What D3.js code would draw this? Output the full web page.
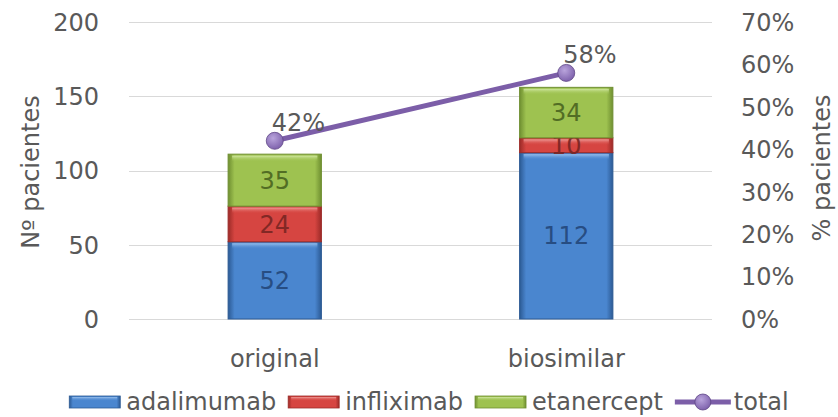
<!DOCTYPE html>
<html>
<head>
<meta charset="utf-8">
<script src="https://cdn.jsdelivr.net/npm/d3@7"></script>
<style>
  html, body { margin: 0; padding: 0; background: #ffffff; }
  svg { display: block; }
  text { font-family: "DejaVu Sans", "Open Sans", sans-serif; fill: #595959; }
</style>
</head>
<body>
<svg id="chart" width="838" height="417"></svg>
<script>
// Patients per drug, by product type
const categories = ["original", "biosimilar"];
const seriesNames = ["adalimumab", "infliximab", "etanercept"];
const adalimumab = [52, 112];
const infliximab = [24, 10];
const etanercept = [35, 34];
// Share of all patients in each group
const totalPct = [0.42, 0.58];
const leftTicks = [0, 50, 100, 150, 200];
const rightTicks = [0, 0.1, 0.2, 0.3, 0.4, 0.5, 0.6, 0.7];

const FS = "24px";
const colors = {
  adalimumab: { base: "#4a86cf", dark: "#2c5a94", light: "#9cc3ef", text: "#24477a" },
  infliximab: { base: "#d64541", dark: "#9c2b28", light: "#f0a09c", text: "#7a2523" },
  etanercept: { base: "#9ec250", dark: "#6f8f31", light: "#d3e9a6", text: "#4a6420" },
  total: { line: "#7c5ea8", dot: "#7f63ad", dotLight: "#b9a4dc" }
};

const svg = d3.select("#chart");
const W = 838, H = 417;
const margin = { left: 129, right: W - 712, top: 22, bottom: H - 319 };

const x = d3.scaleBand().domain(categories).range([margin.left, W - margin.right]).paddingInner(0).paddingOuter(0);
const barW = x.bandwidth() * 0.32;
const yL = d3.scaleLinear().domain([0, 200]).range([H - margin.bottom, margin.top]);
const yR = d3.scaleLinear().domain([0, 0.7]).range([H - margin.bottom, margin.top]);

const defs = svg.append("defs");
seriesNames.forEach(name => {
  const c = colors[name];
  const g = defs.append("linearGradient").attr("id", "h-" + name).attr("x1", 0).attr("x2", 1).attr("y1", 0).attr("y2", 0);
  g.append("stop").attr("offset", "0%").attr("stop-color", c.dark);
  g.append("stop").attr("offset", "7%").attr("stop-color", c.base);
  g.append("stop").attr("offset", "93%").attr("stop-color", c.base);
  g.append("stop").attr("offset", "100%").attr("stop-color", c.dark);
  const v = defs.append("linearGradient").attr("id", "v-" + name).attr("x1", 0).attr("x2", 0).attr("y1", 0).attr("y2", 1);
  v.append("stop").attr("offset", "0%").attr("stop-color", c.light).attr("stop-opacity", 0.95);
  v.append("stop").attr("offset", "100%").attr("stop-color", c.base).attr("stop-opacity", 0);
});
const rg = defs.append("radialGradient").attr("id", "dot").attr("cx", "40%").attr("cy", "35%").attr("r", "65%");
rg.append("stop").attr("offset", "0%").attr("stop-color", colors.total.dotLight);
rg.append("stop").attr("offset", "100%").attr("stop-color", colors.total.dot);

// Gridlines
svg.append("g").selectAll("line").data(leftTicks).join("line")
  .attr("x1", margin.left).attr("x2", W - margin.right)
  .attr("y1", d => Math.round(yL(d)) + 0.5).attr("y2", d => Math.round(yL(d)) + 0.5)
  .attr("stroke", "#d9d9d9").attr("stroke-width", 1);

// Left axis
const axisL = svg.append("g").attr("transform", `translate(${margin.left - 30},0)`)
  .call(d3.axisLeft(yL).tickValues(leftTicks).tickSize(0).tickPadding(0));
axisL.select(".domain").remove();
axisL.selectAll("text").style("font-size", FS).attr("fill", "#595959").attr("dy", "0.35em");

// Right axis
const axisR = svg.append("g").attr("transform", `translate(${W - margin.right + 29},0)`)
  .call(d3.axisRight(yR).tickValues(rightTicks).tickFormat(d3.format(".0%")).tickSize(0).tickPadding(0));
axisR.select(".domain").remove();
axisR.selectAll("text").style("font-size", FS).attr("fill", "#595959").attr("dy", "0.35em");

// Bottom category labels
const axisB = svg.append("g").attr("transform", `translate(0,${H - margin.bottom + 40})`)
  .call(d3.axisBottom(x).tickSize(0).tickPadding(0));
axisB.select(".domain").remove();
axisB.selectAll("text").style("font-size", FS).attr("fill", "#595959").attr("dy", "0.35em");

// Axis titles
svg.append("text").attr("transform", `translate(31,172) rotate(-90)`)
  .attr("text-anchor", "middle").attr("dy", "0.35em").style("font-size", FS).text("Nº pacientes");
svg.append("text").attr("transform", `translate(822,168) rotate(-90)`)
  .attr("text-anchor", "middle").attr("dy", "0.35em").style("font-size", FS).text("% pacientes");

// Stacked bars
const rows = categories.map((cat, i) => ({
  cat, adalimumab: adalimumab[i], infliximab: infliximab[i], etanercept: etanercept[i]
}));
const stacked = d3.stack().keys(seriesNames)(rows);

stacked.forEach(layer => {
  const name = layer.key;
  const g = svg.append("g");
  layer.forEach(d => {
    const cx = x(d.data.cat) + x.bandwidth() / 2;
    const x0 = cx - barW / 2;
    const yTop = yL(d[1]), yBot = yL(d[0]);
    const h = yBot - yTop;
    g.append("rect").attr("x", x0).attr("y", yTop).attr("width", barW).attr("height", h)
      .attr("fill", `url(#h-${name})`).attr("stroke", colors[name].dark).attr("stroke-width", 1);
    g.append("rect").attr("x", x0 + 4).attr("y", yTop + 1.5).attr("width", barW - 8).attr("height", Math.min(6, h * 0.4))
      .attr("fill", `url(#v-${name})`);
    g.append("text").attr("x", cx).attr("y", (yTop + yBot) / 2).attr("dy", "0.36em")
      .attr("text-anchor", "middle").style("font-size", FS)
      .style("fill", colors[name].text).style("opacity", 0.9)
      .text(d.data[name]);
  });
});

// Total line on the right axis
const pts = categories.map((c, i) => ({ cx: x(c) + x.bandwidth() / 2, v: totalPct[i] }));
svg.append("path").datum(pts)
  .attr("d", d3.line().x(d => d.cx).y(d => yR(d.v)))
  .attr("fill", "none").attr("stroke", colors.total.line).attr("stroke-width", 5).attr("stroke-linecap", "round");
svg.append("g").selectAll("circle").data(pts).join("circle")
  .attr("cx", d => d.cx).attr("cy", d => yR(d.v)).attr("r", 8.5)
  .attr("fill", "url(#dot)").attr("stroke", "#5e4585").attr("stroke-width", 0.8);
svg.append("g").selectAll("text").data(pts).join("text")
  .attr("x", d => d.cx - 3).attr("y", d => yR(d.v) - 10)
  .style("font-size", FS).style("fill", "#595959")
  .text(d => d3.format(".0%")(d.v));

// Legend
const legend = svg.append("g");
const legendItems = seriesNames.concat(["total"]);
let lx = 0;
const ly = 402;
const itemGap = 12;
legendItems.forEach(name => {
  const item = legend.append("g").attr("transform", `translate(${lx},0)`);
  if (name === "total") {
    item.append("line").attr("x1", 0).attr("x2", 56).attr("y1", ly).attr("y2", ly)
      .attr("stroke", colors.total.line).attr("stroke-width", 5);
    item.append("circle").attr("cx", 28).attr("cy", ly).attr("r", 8)
      .attr("fill", "url(#dot)").attr("stroke", "#5e4585").attr("stroke-width", 0.8);
  } else {
    item.append("rect").attr("x", 0).attr("y", ly - 6).attr("width", 51).attr("height", 12)
      .attr("fill", `url(#h-${name})`).attr("stroke", colors[name].dark).attr("stroke-width", 0.8);
    item.append("rect").attr("x", 3).attr("y", ly - 5).attr("width", 45).attr("height", 4)
      .attr("fill", `url(#v-${name})`);
  }
  const sw = name === "total" ? 59 : 57;
  const t = item.append("text").attr("x", sw).attr("y", ly).attr("dy", "0.35em")
    .style("font-size", FS).text(name);
  lx += sw + t.node().getComputedTextLength() + itemGap;
});
const legendW = lx - itemGap;
legend.attr("transform", `translate(${429 - legendW / 2},0)`);
</script>
</body>
</html>
